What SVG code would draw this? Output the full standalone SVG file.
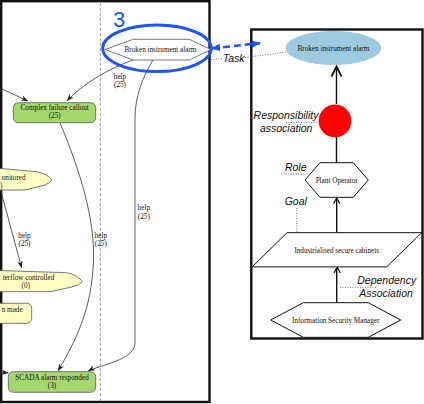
<svg xmlns="http://www.w3.org/2000/svg" width="424" height="404" viewBox="0 0 424 404">
<defs>
<style>
.nt{font-family:"Liberation Serif","Times New Roman",serif;font-size:7.2px;fill:#111;text-anchor:middle}
.st{font-family:"Liberation Serif","Times New Roman",serif;font-size:7.2px;fill:#111;text-anchor:start}
.an{font-family:"Liberation Sans",Arial,sans-serif;font-style:italic;font-size:10.5px;fill:#111;text-anchor:middle}
.e{fill:none;stroke:#333;stroke-width:0.8}
.green{fill:#a5d76e;stroke:#555;stroke-width:0.8}
.yellow{fill:#ffffc4;stroke:#555;stroke-width:0.8}
.hex{fill:#fff;stroke:#666;stroke-width:0.9}
.shape{fill:#fff;stroke:#111;stroke-width:1}
.dot{fill:none;stroke:#555;stroke-width:0.8;stroke-dasharray:1,1.5}
.assoc{fill:none;stroke:#111;stroke-width:1.4}
.frame{fill:#fff;stroke:#111;stroke-width:2.4}
</style>
<marker id="vee" viewBox="0 0 10 10" refX="10" refY="5" markerWidth="7" markerHeight="7" markerUnits="userSpaceOnUse" orient="auto"><path d="M0,1 L10,5 L0,9 L3,5z" fill="#222"/></marker>
<marker id="blue" viewBox="0 0 10 10" refX="9" refY="5" markerWidth="9" markerHeight="9" markerUnits="userSpaceOnUse" orient="auto-start-reverse"><path d="M0,1 L10,5 L0,9 z" fill="#1f55f5"/></marker>
</defs>
<rect width="424" height="404" fill="#fff"/>
<g id="frames">
<rect class="frame" x="1.2" y="1.2" width="208.3" height="400.8"/>
<line x1="100.3" y1="3" x2="100.3" y2="401" stroke="#888" stroke-width="0.8" stroke-dasharray="3,2"/>
<rect class="frame" x="251.3" y="29.5" width="171.2" height="309"/>
</g>
<g id="connectors">
<path class="e" d="M0,88 L28,101" marker-end="url(#vee)"/>
<path class="e" d="M133,60 C110,68 82,84 67,101" marker-end="url(#vee)"/>
<path class="e" d="M153,60 C142,78 135,98 135,118 L135,343 C135,360 100,365 88,371" marker-end="url(#vee)"/>
<path class="e" d="M60,123 C80,170 95,220 93.5,260 C92,310 75,342 58,371" marker-end="url(#vee)"/>
<path class="e" d="M0.6,190 L21.7,268" marker-end="url(#vee)"/>
<path class="e" d="M0,372 L8.5,373" marker-end="url(#vee)"/>
<g class="st" style="text-anchor:middle">
<text x="120" y="78.5">help</text><text x="120" y="86.5">(25)</text>
<text x="143.8" y="210">help</text><text x="143.8" y="218.5">(25)</text>
<text x="100.8" y="237.5">help</text><text x="100.8" y="246">(25)</text>
<text x="24.5" y="237.5">help</text><text x="24.5" y="246">(25)</text>
</g>
<line x1="336.5" y1="104" x2="336.5" y2="67" class="assoc"/>
<path d="M331.5,76.5 L336.5,66.5 L341.5,76.5" fill="none" stroke="#111" stroke-width="1.8"/>
<line x1="336.5" y1="137" x2="336.5" y2="163" class="assoc"/>
<line x1="336.7" y1="232.5" x2="336.7" y2="199" class="assoc"/>
<path d="M333.6,203.8 L336.7,197.8 L339.8,203.8" fill="none" stroke="#111" stroke-width="1.2"/>
<line x1="336.7" y1="302.7" x2="336.7" y2="268" class="assoc"/>
<path d="M334,273 L337.2,267.3 L340.4,273" fill="none" stroke="#111" stroke-width="1.2"/>
<path d="M212,48.3 L260,43.2" fill="none" stroke="#1f55f5" stroke-width="2.5" stroke-dasharray="7,4" marker-start="url(#blue)" marker-end="url(#blue)"/>
<path class="dot" d="M211,59.5 L222,58.7"/>
<path class="dot" d="M245,57.5 L287,52"/>
<path class="dot" d="M286,122.5 L318,122.5"/>
<path class="dot" d="M280.7,174 L308,174"/>
<path class="dot" d="M296.7,208 L296.7,232"/>
<path class="dot" d="M340,287.3 L377,287.3"/>
</g>
<g id="n-onitored">
<path class="yellow" d="M-2,168.3 L36.7,171.7 Q48,174 51.7,180 Q50,183 45,185 L25,190 L-2,190 Z"/>
<text class="st" x="1.7" y="179.5">onitored</text>
<text class="st" x="0" y="187.5">)</text>
</g>
<g id="n-terflow">
<path class="yellow" d="M-2,270.5 L66.7,272.7 Q78,275 82.3,281.7 Q80,285 72,287 L50,291.7 L-2,291.7 Z"/>
<text class="st" x="2.7" y="279.5">terflow controlled</text>
<text class="nt" x="25.8" y="287.5">(0)</text>
</g>
<g id="n-made">
<rect class="yellow" x="-6" y="303.3" width="37.7" height="20" rx="5"/>
<text class="st" x="1.7" y="311.5">n made</text>
</g>
<g id="n-complex">
<rect class="green" x="13.3" y="102.7" width="82.4" height="20" rx="5"/>
<text class="nt" x="54.7" y="109.5">Complex failure callout</text>
<text class="nt" x="54.7" y="117.5">(25)</text>
</g>
<g id="n-scada">
<rect class="green" x="8.3" y="371.7" width="87.4" height="20.6" rx="5"/>
<text class="nt" x="52" y="379.5">SCADA alarm responded</text>
<text class="nt" x="52" y="387.5">(3)</text>
</g>
<g id="n-broken-left">
<polygon class="hex" points="105,49.5 133.3,39.3 189.3,39.3 211,49.5 189.3,60 133.3,60"/>
<text class="nt" x="160.5" y="51.8">Broken instrument alarm</text>
</g>
<g id="highlight">
<ellipse cx="157" cy="48.3" rx="54.3" ry="23.3" fill="none" stroke="#1f55f5" stroke-width="3"/>
<text x="113" y="26.7" font-family="Liberation Sans, Arial, sans-serif" font-size="22" fill="#1f55f5">3</text>
</g>
<g id="n-task">
<ellipse cx="333.4" cy="48" rx="47.7" ry="17" fill="#9ecae1"/>
<text class="nt" x="333.4" y="50.5">Broken instrument alarm</text>
</g>
<g id="n-resp">
<circle cx="335" cy="121" r="16.4" fill="#ff0000"/>
</g>
<g id="n-role">
<polygon class="shape" points="305,180 320,162.7 353.3,162.7 368.3,180 353.3,197.3 320,197.3"/>
<text class="nt" x="336.7" y="182.5">Plant Operator</text>
</g>
<g id="n-goal">
<polygon class="shape" points="287,232.7 421.7,232.7 386.7,266.9 252.2,266.9"/>
<text class="nt" x="336.7" y="252.5">Industrialised secure cabinets</text>
</g>
<g id="n-ism">
<polygon class="shape" points="270.7,320 303.3,302.7 368.3,302.7 400.7,320 368.3,337.3 303.3,337.3"/>
<text class="nt" x="335.7" y="322.5">Information Security Manager</text>
</g>
<g id="annotations">
<text class="an" x="233.7" y="62">Task</text>
<text class="an" x="286" y="119">Responsibility</text>
<text class="an" x="286.2" y="131.8">association</text>
<text class="an" x="295.7" y="170.5">Role</text>
<text class="an" x="295.8" y="205">Goal</text>
<text class="an" x="386.7" y="283.5">Dependency</text>
<text class="an" x="386" y="296.5">Association</text>
</g>
</svg>
